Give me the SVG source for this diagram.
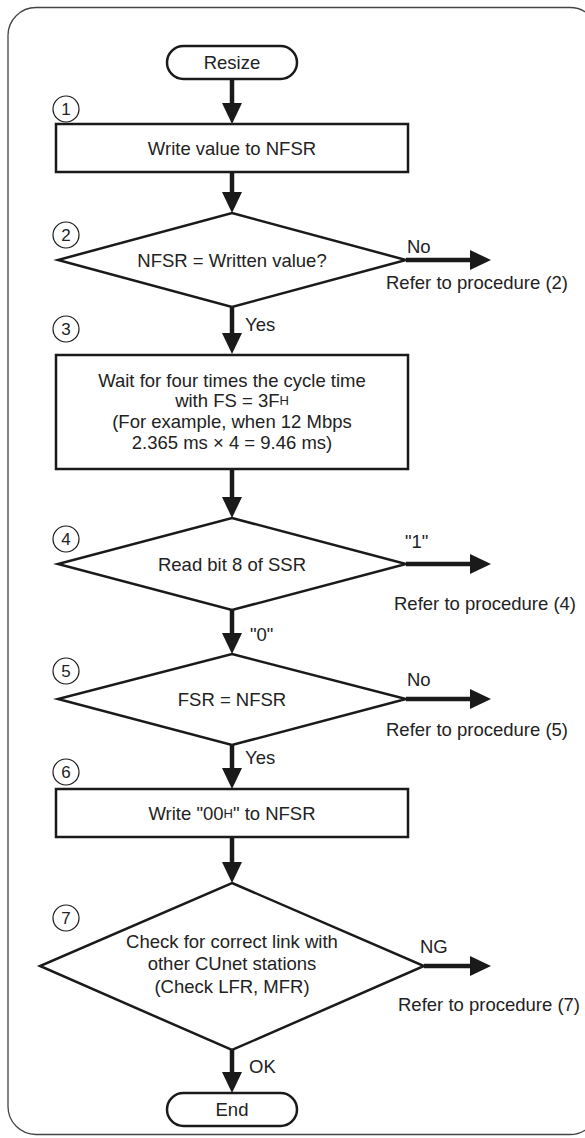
<svg xmlns="http://www.w3.org/2000/svg" width="585" height="1138" viewBox="0 0 585 1138">
<defs>
<style>
.t{font-family:"Liberation Sans",Arial,sans-serif;font-size:18.5px;fill:#222;text-anchor:middle;dominant-baseline:central}
.l{font-family:"Liberation Sans",Arial,sans-serif;font-size:18.5px;fill:#222;dominant-baseline:central}
.n{font-family:"Liberation Sans",Arial,sans-serif;font-size:17px;fill:#222;text-anchor:middle;dominant-baseline:central}
.shape{fill:#fff;stroke:#1a1a1a;stroke-width:2.5}
.num{fill:#fff;stroke:#1a1a1a;stroke-width:1.2}
.c{stroke:#1a1a1a;stroke-width:4.5;fill:none}
.s{font-size:13px}
</style>
<marker id="ah" markerUnits="userSpaceOnUse" markerWidth="22" markerHeight="22" refX="2" refY="10" orient="auto">
<path d="M0,0 L21,10 L0,20 z" fill="#1a1a1a"/>
</marker>
</defs>
<rect x="8" y="7.5" width="590" height="1127" rx="28" fill="none" stroke="#444" stroke-width="1.3"/>
<g id="connectors">
<line class="c" x1="232" y1="79" x2="232" y2="105" marker-end="url(#ah)"/>
<line class="c" x1="232" y1="172" x2="232" y2="194" marker-end="url(#ah)"/>
<line class="c" x1="232" y1="307" x2="232" y2="335" marker-end="url(#ah)"/>
<line class="c" x1="232" y1="469" x2="232" y2="499" marker-end="url(#ah)"/>
<line class="c" x1="232" y1="610" x2="232" y2="635" marker-end="url(#ah)"/>
<line class="c" x1="232" y1="745" x2="232" y2="770" marker-end="url(#ah)"/>
<line class="c" x1="232" y1="837" x2="232" y2="864" marker-end="url(#ah)"/>
<line class="c" x1="232" y1="1050" x2="232" y2="1074" marker-end="url(#ah)"/>
<line class="c" x1="406" y1="260" x2="472" y2="260" marker-end="url(#ah)"/>
<line class="c" x1="406" y1="564" x2="472" y2="564" marker-end="url(#ah)"/>
<line class="c" x1="406" y1="699" x2="472" y2="699" marker-end="url(#ah)"/>
<line class="c" x1="424" y1="966" x2="472" y2="966" marker-end="url(#ah)"/>
</g>
<g id="labels">
<text class="l" x="407" y="246">No</text>
<text class="l" x="386" y="282">Refer to procedure (2)</text>
<text class="l" x="245" y="324">Yes</text>
<text class="l" x="405" y="541">"1"</text>
<text class="l" x="394" y="603">Refer to procedure (4)</text>
<text class="l" x="250" y="634">"0"</text>
<text class="l" x="407" y="679">No</text>
<text class="l" x="386" y="729">Refer to procedure (5)</text>
<text class="l" x="245" y="757">Yes</text>
<text class="l" x="420" y="946">NG</text>
<text class="l" x="398" y="1004">Refer to procedure (7)</text>
<text class="l" x="249" y="1066">OK</text>
</g>
<g id="start">
<rect class="shape" x="167" y="46" width="130" height="33" rx="16.5"/>
<text class="t" x="232" y="62.5">Resize</text>
</g>
<g id="step1">
<circle class="num" cx="66" cy="109" r="13"/>
<text class="n" x="66" y="109">1</text>
<rect class="shape" x="56" y="124" width="352" height="48"/>
<text class="t" x="232" y="148">Write value to NFSR</text>
</g>
<g id="step2">
<circle class="num" cx="66" cy="235" r="13"/>
<text class="n" x="66" y="235">2</text>
<polygon class="shape" points="232,213 406,260 232,307 58,260"/>
<text class="t" x="232" y="260">NFSR = Written value?</text>
</g>
<g id="step3">
<circle class="num" cx="66" cy="329" r="13"/>
<text class="n" x="66" y="329">3</text>
<rect class="shape" x="56" y="355" width="352" height="114"/>
<text class="t" x="232" y="380">Wait for four times the cycle time</text>
<text class="t" x="232" y="400">with FS = 3F<tspan class="s">H</tspan></text>
<text class="t" x="232" y="421">(For example, when 12 Mbps</text>
<text class="t" x="232" y="442">2.365 ms × 4 = 9.46 ms)</text>
</g>
<g id="step4">
<circle class="num" cx="66" cy="539" r="13"/>
<text class="n" x="66" y="539">4</text>
<polygon class="shape" points="232,518 406,564 232,610 58,564"/>
<text class="t" x="232" y="564">Read bit 8 of SSR</text>
</g>
<g id="step5">
<circle class="num" cx="66" cy="671" r="13"/>
<text class="n" x="66" y="671">5</text>
<polygon class="shape" points="232,654 406,699 232,745 58,699"/>
<text class="t" x="232" y="699">FSR = NFSR</text>
</g>
<g id="step6">
<circle class="num" cx="66" cy="772" r="13"/>
<text class="n" x="66" y="772">6</text>
<rect class="shape" x="56" y="789" width="352" height="48"/>
<text class="t" x="232" y="813">Write "00<tspan class="s">H</tspan>" to NFSR</text>
</g>
<g id="step7">
<circle class="num" cx="66" cy="918" r="13"/>
<text class="n" x="66" y="918">7</text>
<polygon class="shape" points="232,883 424,966 232,1050 40,966"/>
<text class="t" x="232" y="941">Check for correct link with</text>
<text class="t" x="232" y="963">other CUnet stations</text>
<text class="t" x="232" y="986">(Check LFR, MFR)</text>
</g>
<g id="end">
<rect class="shape" x="167" y="1093" width="130" height="33" rx="16.5"/>
<text class="t" x="232" y="1109.5">End</text>
</g>
</svg>
